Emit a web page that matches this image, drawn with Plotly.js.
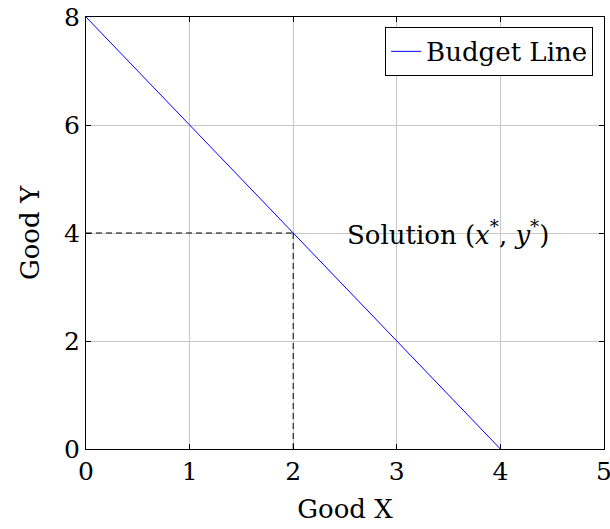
<!DOCTYPE html>
<html>
<head>
<meta charset="utf-8">
<script src="https://cdn.plot.ly/plotly-3.0.1.min.js"></script>
<style>html,body{margin:0;padding:0;background:#fff;}#chart{width:610px;height:529px;}</style>
</head>
<body>
<div id="chart"></div>
<script>
const budgetX = [0, 1, 2, 3, 4];
const budgetY = [8, 6, 4, 2, 0];
const solutionX = 2;
const solutionY = 4;
const xTicks = [0, 1, 2, 3, 4, 5];
const yTicks = [0, 2, 4, 6, 8];

const FONT = "DejaVu Serif, Liberation Serif, serif";
const FS = 26;

const traces = [
  {
    x: budgetX, y: budgetY, mode: 'lines', name: 'Budget Line',
    line: {color: '#0000ff', width: 1}
  },
  {
    x: [0, solutionX], y: [solutionY, solutionY], mode: 'lines', showlegend: false,
    line: {color: '#000', width: 1, dash: '6px,4px'}, hoverinfo: 'skip'
  },
  {
    x: [solutionX, solutionX], y: [solutionY, 0], mode: 'lines', showlegend: false,
    line: {color: '#000', width: 1, dash: '6px,4px'}, hoverinfo: 'skip'
  }
];

const axisCommon = {
  showgrid: true, gridcolor: '#c8c8c8', gridwidth: 1,
  zeroline: false, showline: true, linecolor: '#000', linewidth: 1, mirror: 'ticks',
  ticks: 'inside', ticklen: 5, tickcolor: '#000',
  ticklabeloverflow: 'allow',
  tickfont: {family: FONT, size: 25, color: '#000'}
};

const layout = {
  width: 610, height: 529,
  margin: {l: 86, r: 6, t: 17, b: 80},
  paper_bgcolor: '#fff', plot_bgcolor: '#fff',
  font: {family: FONT, color: '#000'},
  showlegend: true,
  legend: {
    x: 0.979, y: 0.977, xanchor: 'right', yanchor: 'top',
    bordercolor: '#000', borderwidth: 1, bgcolor: '#fff',
    font: {family: FONT, size: FS, color: '#000'},
    itemwidth: 30, tracegroupgap: 0
  },
  xaxis: Object.assign({}, axisCommon, {
    range: [0, 5], tickvals: xTicks, ticktext: xTicks.map(String),
    title: {text: 'Good X', font: {family: FONT, size: FS, color: '#000'}, standoff: 14}
  }),
  yaxis: Object.assign({}, axisCommon, {
    range: [0, 8], tickvals: yTicks, ticktext: yTicks.map(String),
    title: {text: 'Good Y', font: {family: FONT, size: FS, color: '#000'}, standoff: 16}
  }),
  annotations: [
    {
      x: 3.49, y: solutionY, xref: 'x', yref: 'y', showarrow: false,
      text: 'Solution (<i>x</i><sup>*</sup>, <i>y</i><sup>*</sup>)',
      font: {family: FONT, size: FS, color: '#000'}, xanchor: 'center', yanchor: 'middle'
    }
  ]
};

Plotly.newPlot('chart', traces, layout, {displayModeBar: false, staticPlot: true});
</script>
</body>
</html>
